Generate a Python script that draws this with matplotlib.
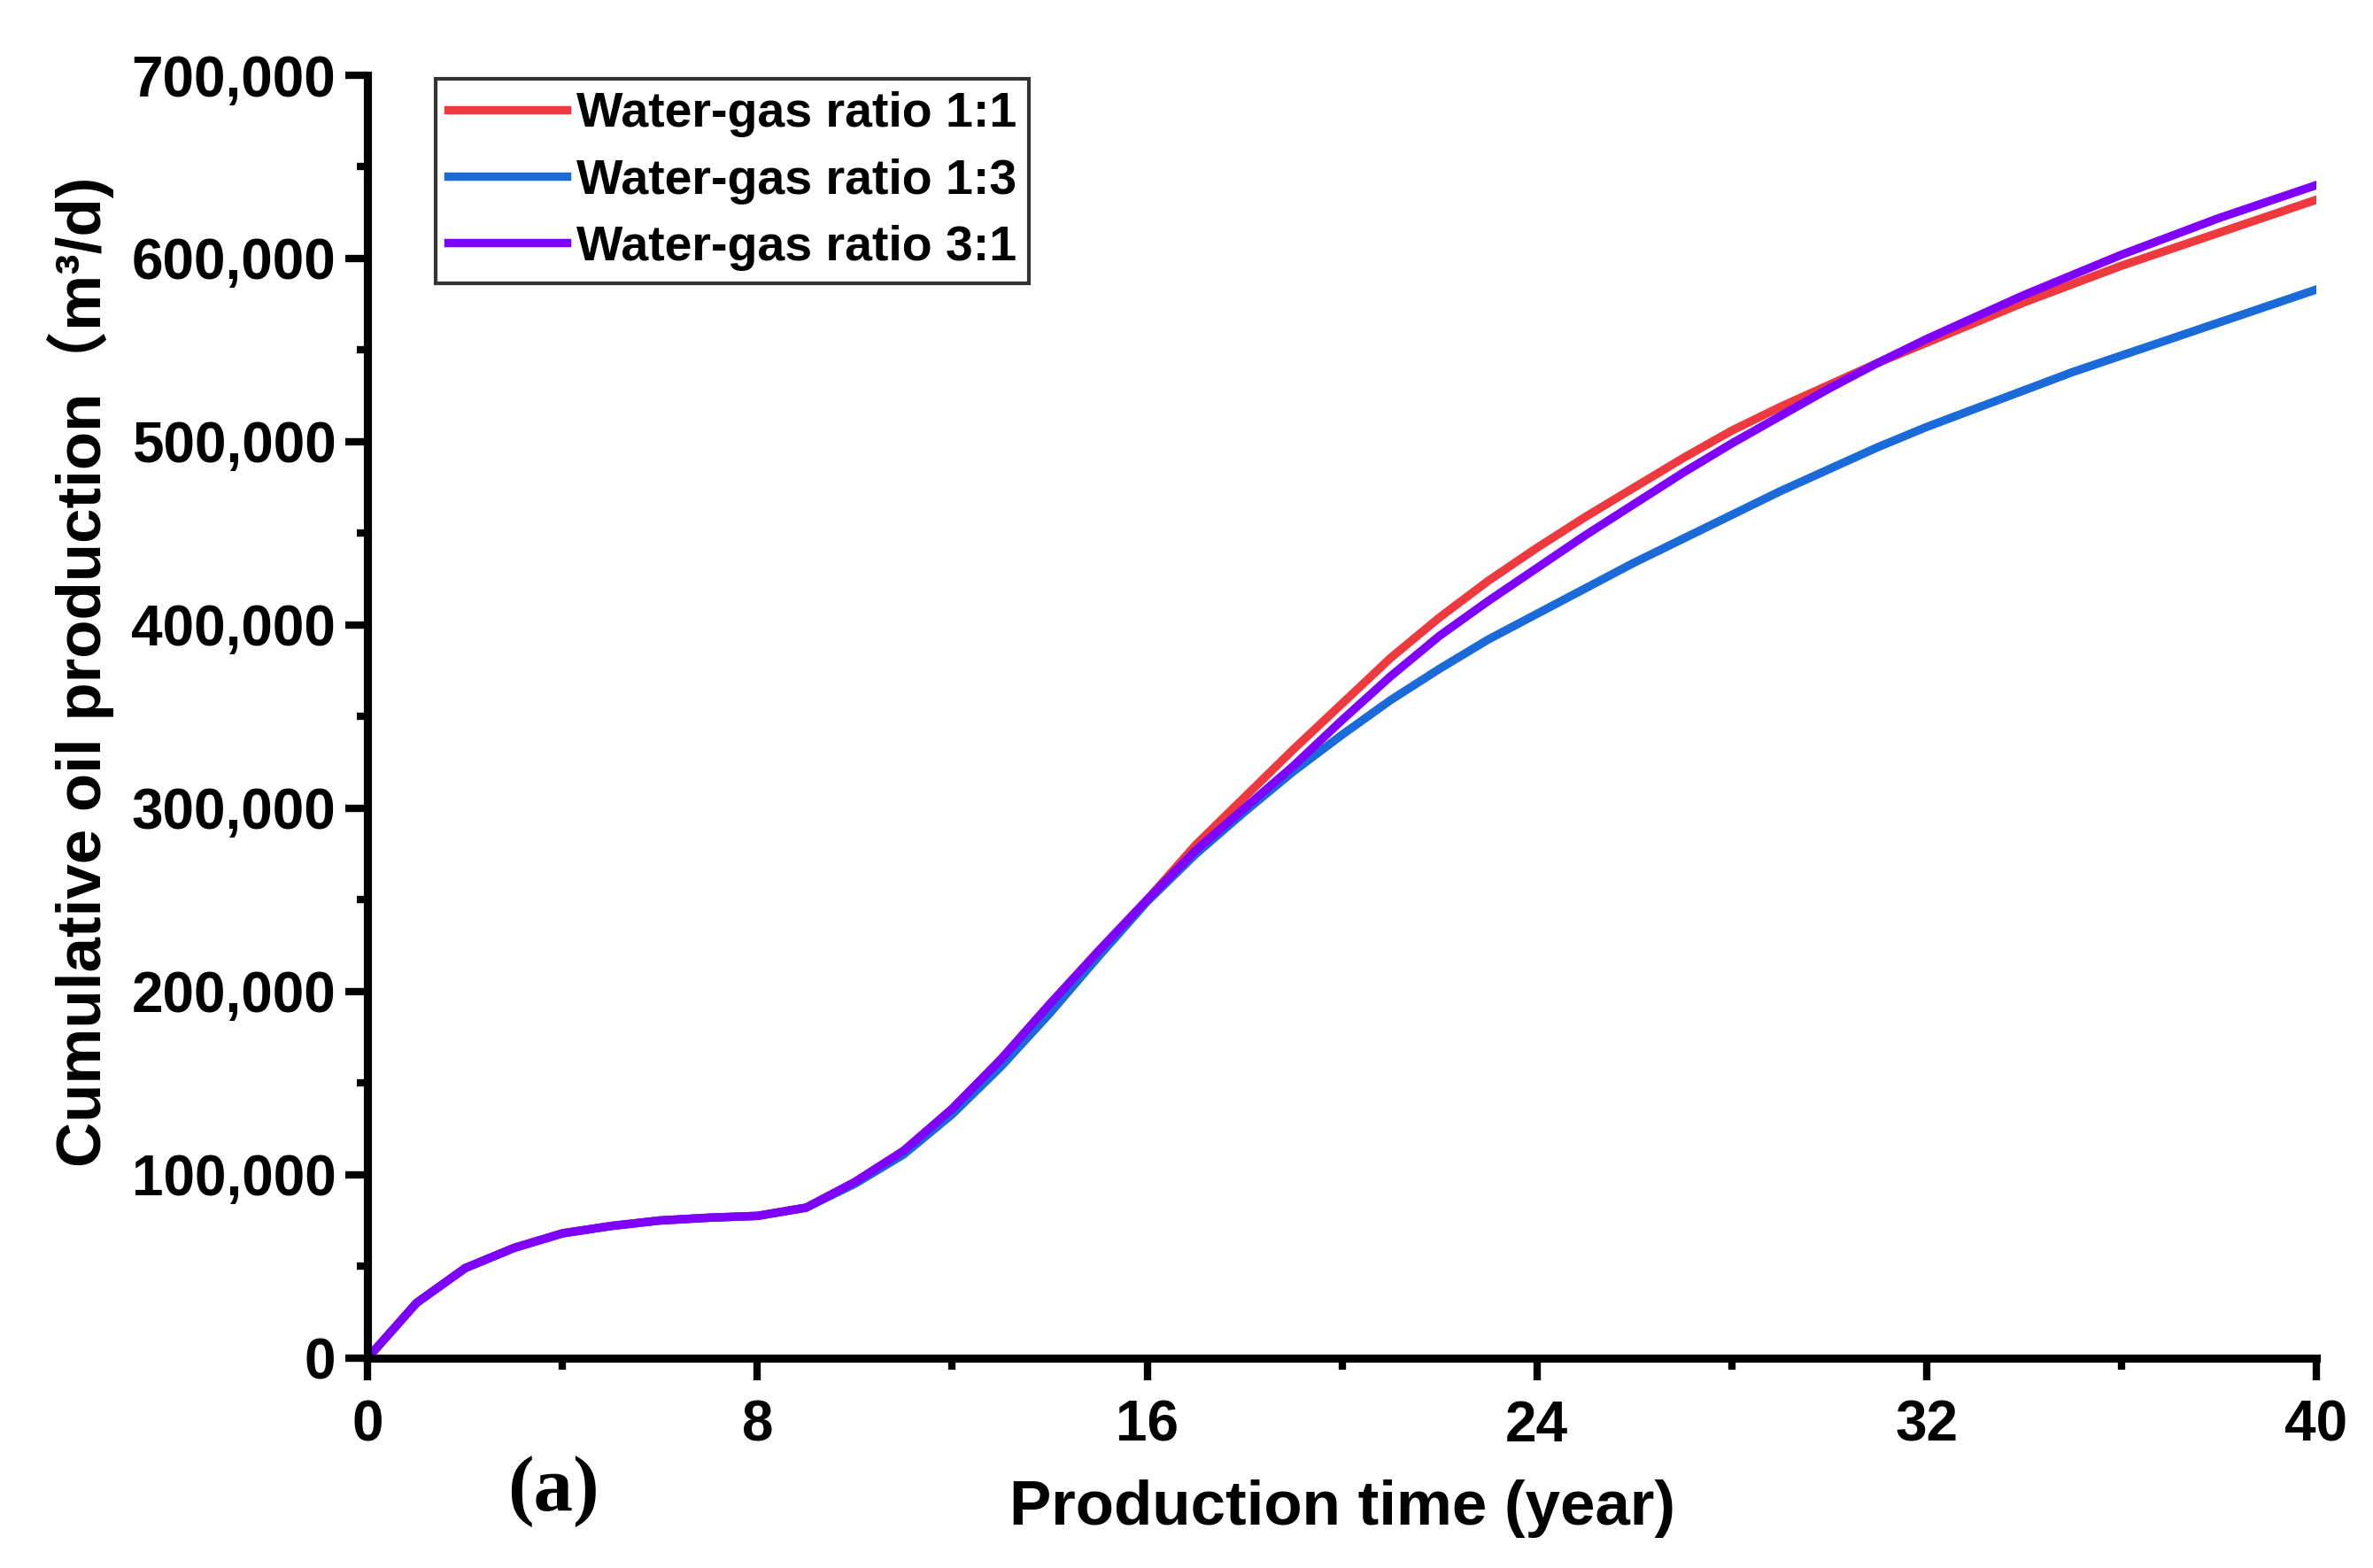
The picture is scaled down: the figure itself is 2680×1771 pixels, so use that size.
import matplotlib
matplotlib.use("Agg")
import matplotlib.pyplot as plt
from matplotlib.ticker import MultipleLocator, FuncFormatter

plt.rcParams['font.family'] = ['Liberation Sans', 'Noto Sans CJK SC', 'DejaVu Sans']
plt.rcParams['font.weight'] = 'bold'

# years
years = list(range(0, 41))

# cumulative oil production, m3
ratio_1_1 = [0, 30000, 49000, 60000, 68000, 72000, 75000, 76500, 77500, 82000,
             96000, 113000, 136000, 163000, 193000, 222000, 250000, 280000, 306000, 332000,
             357000, 382000, 404000, 424000, 442000, 459000, 475000, 491000, 506000, 519000,
             531000, 543000, 554000, 565000, 576000, 586000, 596000, 605000, 614000, 623000,
             632000]
ratio_1_3 = [0, 30000, 49000, 60000, 68000, 72000, 75000, 76500, 77500, 82000,
             95000, 111000, 133000, 159000, 188000, 219000, 249000, 275000, 298000, 320000,
             340000, 359000, 376000, 392000, 406000, 420000, 434000, 447000, 460000, 473000,
             485000, 497000, 508000, 518000, 528000, 538000, 547000, 556000, 565000, 574000,
             583000]
ratio_3_1 = [0, 30000, 49000, 60000, 68000, 72000, 75000, 76500, 77500, 82000,
             96000, 113000, 136000, 163000, 193000, 222000, 250000, 277000, 300000, 323000,
             348000, 372000, 394000, 413000, 431000, 449000, 466000, 483000, 499000, 514000,
             529000, 543000, 556000, 568000, 580000, 591000, 602000, 612000, 622000, 631000,
             640000]

labels = ['Water-gas ratio 1:1', 'Water-gas ratio 1:3', 'Water-gas ratio 3:1']
colors = ['#EE3A3E', '#1A6AD9', '#7F00FF']

fig = plt.figure(figsize=(13.4, 8.855), dpi=200)
ax = fig.add_axes([0.155, 0.134, 0.821, 0.818])

for serie, lab, cor in zip([ratio_1_1, ratio_1_3, ratio_3_1], labels, colors):
    ax.plot(years, serie, color=cor, lw=3.4, label=lab, solid_joinstyle='round')

ax.set_xlim(0, 40)
ax.set_ylim(0, 700000)
ax.xaxis.set_major_locator(MultipleLocator(8))
ax.xaxis.set_minor_locator(MultipleLocator(4))
ax.yaxis.set_major_locator(MultipleLocator(100000))
ax.yaxis.set_minor_locator(MultipleLocator(50000))
ax.yaxis.set_major_formatter(FuncFormatter(lambda v, p: f"{int(v):,}"))

for s in ['top', 'right']:
    ax.spines[s].set_visible(False)
for s in ['left', 'bottom']:
    ax.spines[s].set_linewidth(3.3)

ax.tick_params(which='major', direction='out', length=9, width=3, labelsize=23, pad=4)
ax.tick_params(which='minor', direction='out', length=4.5, width=3)
ax.tick_params(axis='x', which='major', pad=8)

ax.set_xlabel('Production time (year)', fontsize=25.5, fontweight='bold', labelpad=11)
ax.set_ylabel('Cumulative oil production（m³/d)', fontsize=25.5, fontweight='bold')
ax.yaxis.set_label_coords(-0.13, 0.535)

leg = ax.legend(loc='upper left', bbox_to_anchor=(0.035, 0.997), borderaxespad=0,
                fancybox=False, edgecolor='black', fontsize=20, handlelength=2.4,
                handletextpad=0.2, labelspacing=0.42, borderpad=0.25)
leg.get_frame().set_linewidth(1.5)
for t in leg.get_texts():
    t.set_fontweight('bold')

fig.text(0.233, 0.049, '(a)', fontsize=32, fontweight='bold', family='Liberation Serif',
         ha='center', va='center')

fig.savefig('out.png', dpi=200)
